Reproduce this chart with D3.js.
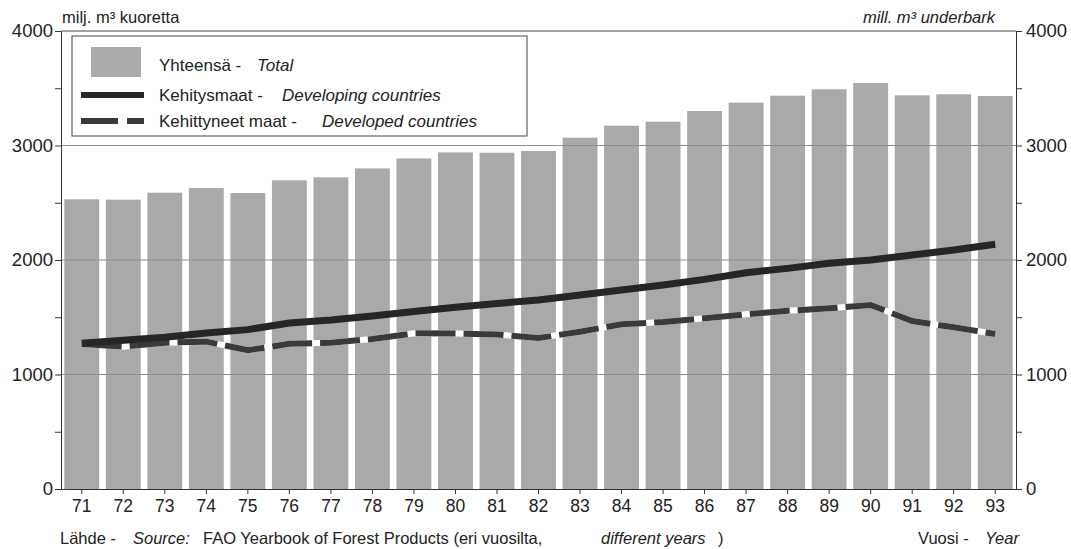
<!DOCTYPE html>
<html>
<head>
<meta charset="utf-8">
<script src="https://cdn.jsdelivr.net/npm/d3@7"></script>
<style>
  body { margin: 0; background: #fff; }
  svg { display: block; font-family: "Liberation Sans", Arial, sans-serif; }
  .axis path, .axis line { stroke: #333; }
  .axis text { font-size: 18.5px; fill: #222; }
  .axis.x text { font-size: 17.5px; }
</style>
</head>
<body>
<svg width="1071" height="549"></svg>
<script>
// years on the x axis
const years = ["71","72","73","74","75","76","77","78","79","80","81","82",
               "83","84","85","86","87","88","89","90","91","92","93"];

// Yhteensä - Total
const total = [2530, 2527, 2588, 2629, 2585, 2696, 2722, 2800, 2887, 2940, 2937, 2952,
               3068, 3173, 3208, 3301, 3374, 3435, 3491, 3546, 3438, 3447, 3432];

// Kehitysmaat - Developing countries
const developing = [1272, 1300, 1325, 1362, 1392, 1450, 1476, 1511, 1550, 1587, 1620, 1651,
                    1694, 1738, 1782, 1831, 1889, 1927, 1971, 2000, 2044, 2087, 2137];

// Kehittyneet maat - Developed countries
const developed = [1266, 1243, 1278, 1287, 1212, 1268, 1278, 1310, 1360, 1358, 1350, 1318,
                   1374, 1438, 1459, 1491, 1526, 1557, 1578, 1607, 1467, 1412, 1354];

const majorTicks = [0, 1000, 2000, 3000, 4000];
const minorTicks = [500, 1500, 2500, 3500];

const svg = d3.select("svg");

const x = d3.scaleBand()
  .domain(years)
  .range([61, 1016])
  .paddingInner(0.16)
  .paddingOuter(0.08);

const y = d3.scaleLinear()
  .domain([0, 4000])
  .range([489, 31]);

const bw = x.bandwidth();
const cx = d => x(d) + bw / 2;
const fmt = d3.format("d");

// bars
svg.append("g")
  .selectAll("rect")
  .data(years)
  .enter()
  .append("rect")
  .attr("x", d => x(d))
  .attr("y", (d, i) => y(total[i]))
  .attr("width", bw)
  .attr("height", (d, i) => y(0) - y(total[i]))
  .attr("fill", "#a9a9a9");

// gridlines at 1000, 2000, 3000
svg.append("g")
  .selectAll("line")
  .data([1000, 2000, 3000])
  .enter()
  .append("line")
  .attr("x1", 61).attr("x2", 1016)
  .attr("y1", d => y(d)).attr("y2", d => y(d))
  .attr("stroke", "#8e8e8e")
  .attr("stroke-width", 1);

// top frame line
svg.append("line")
  .attr("x1", 61).attr("x2", 1016)
  .attr("y1", y(4000)).attr("y2", y(4000))
  .attr("stroke", "#444");

// lines
const line = vals => d3.line()
  .x((d, i) => cx(years[i]))
  .y(d => y(d))(vals);

svg.append("path")
  .attr("d", line(developed))
  .attr("fill", "none")
  .attr("stroke", "#fff")
  .attr("stroke-width", 6);

svg.append("path")
  .attr("d", line(developed))
  .attr("fill", "none")
  .attr("stroke", "#3a3a3a")
  .attr("stroke-width", 6)
  .attr("stroke-dasharray", "40,8");

svg.append("path")
  .attr("d", line(developing))
  .attr("fill", "none")
  .attr("stroke", "#262626")
  .attr("stroke-width", 7);

// axes
svg.append("g")
  .attr("class", "axis")
  .attr("transform", "translate(61,0)")
  .call(d3.axisLeft(y).tickValues(majorTicks).tickFormat(fmt)
    .tickSize(6).tickSizeOuter(0).tickPadding(2));

svg.append("g")
  .attr("class", "axis")
  .attr("transform", "translate(61,0)")
  .call(d3.axisLeft(y).tickValues(minorTicks).tickSize(6).tickFormat(""))
  .select(".domain").remove();

svg.append("g")
  .attr("class", "axis")
  .attr("transform", "translate(1016,0)")
  .call(d3.axisRight(y).tickValues(majorTicks).tickFormat(fmt)
    .tickSize(6).tickSizeOuter(0).tickPadding(4));

svg.append("g")
  .attr("class", "axis")
  .attr("transform", "translate(1016,0)")
  .call(d3.axisRight(y).tickValues(minorTicks).tickSize(6).tickFormat(""))
  .select(".domain").remove();

svg.append("g")
  .attr("class", "axis x")
  .attr("transform", "translate(0,489)")
  .call(d3.axisBottom(x).tickSize(5).tickSizeOuter(0).tickPadding(6));

// unit labels
svg.append("text")
  .attr("x", 62).attr("y", 23)
  .attr("font-size", 16.5)
  .attr("fill", "#222")
  .text("milj. m³ kuoretta");

svg.append("text")
  .attr("x", 995).attr("y", 23)
  .attr("text-anchor", "end")
  .attr("font-size", 16.5)
  .attr("font-style", "italic")
  .attr("fill", "#222")
  .text("mill. m³ underbark");

// legend
const lg = svg.append("g");
lg.append("rect")
  .attr("x", 72).attr("y", 36)
  .attr("width", 455).attr("height", 100)
  .attr("fill", "#fff")
  .attr("stroke", "#444");

lg.append("rect")
  .attr("x", 91).attr("y", 47)
  .attr("width", 50).attr("height", 30)
  .attr("fill", "#a9a9a9");

lg.append("line")
  .attr("x1", 81).attr("x2", 144)
  .attr("y1", 95).attr("y2", 95)
  .attr("stroke", "#262626")
  .attr("stroke-width", 6);

lg.append("line")
  .attr("x1", 81).attr("x2", 144)
  .attr("y1", 121).attr("y2", 121)
  .attr("stroke", "#3a3a3a")
  .attr("stroke-width", 6)
  .attr("stroke-dasharray", "37,9");

const legendRows = [
  {fi: "Yhteensä -", en: "Total", y: 71, ex: 257},
  {fi: "Kehitysmaat -", en: "Developing countries", y: 101, ex: 282},
  {fi: "Kehittyneet maat -", en: "Developed countries", y: 127, ex: 322}
];

legendRows.forEach(r => {
  lg.append("text")
    .attr("x", 159).attr("y", r.y)
    .attr("font-size", 17)
    .attr("fill", "#222")
    .text(r.fi);
  lg.append("text")
    .attr("x", r.ex).attr("y", r.y)
    .attr("font-size", 17)
    .attr("font-style", "italic")
    .attr("fill", "#222")
    .text(r.en);
});

// source line
const foot = [
  {t: "Lähde -", x: 60, it: false},
  {t: "Source:", x: 133, it: true},
  {t: "FAO Yearbook of Forest Products (eri vuosilta,", x: 203, it: false},
  {t: "different years", x: 601, it: true},
  {t: ")", x: 718, it: false},
  {t: "Vuosi -", x: 918, it: false},
  {t: "Year", x: 985, it: true}
];

svg.append("g")
  .selectAll("text")
  .data(foot)
  .enter()
  .append("text")
  .attr("x", d => d.x)
  .attr("y", 544)
  .attr("font-size", 16.5)
  .attr("font-style", d => d.it ? "italic" : "normal")
  .attr("fill", "#222")
  .text(d => d.t);
</script>
</body>
</html>
